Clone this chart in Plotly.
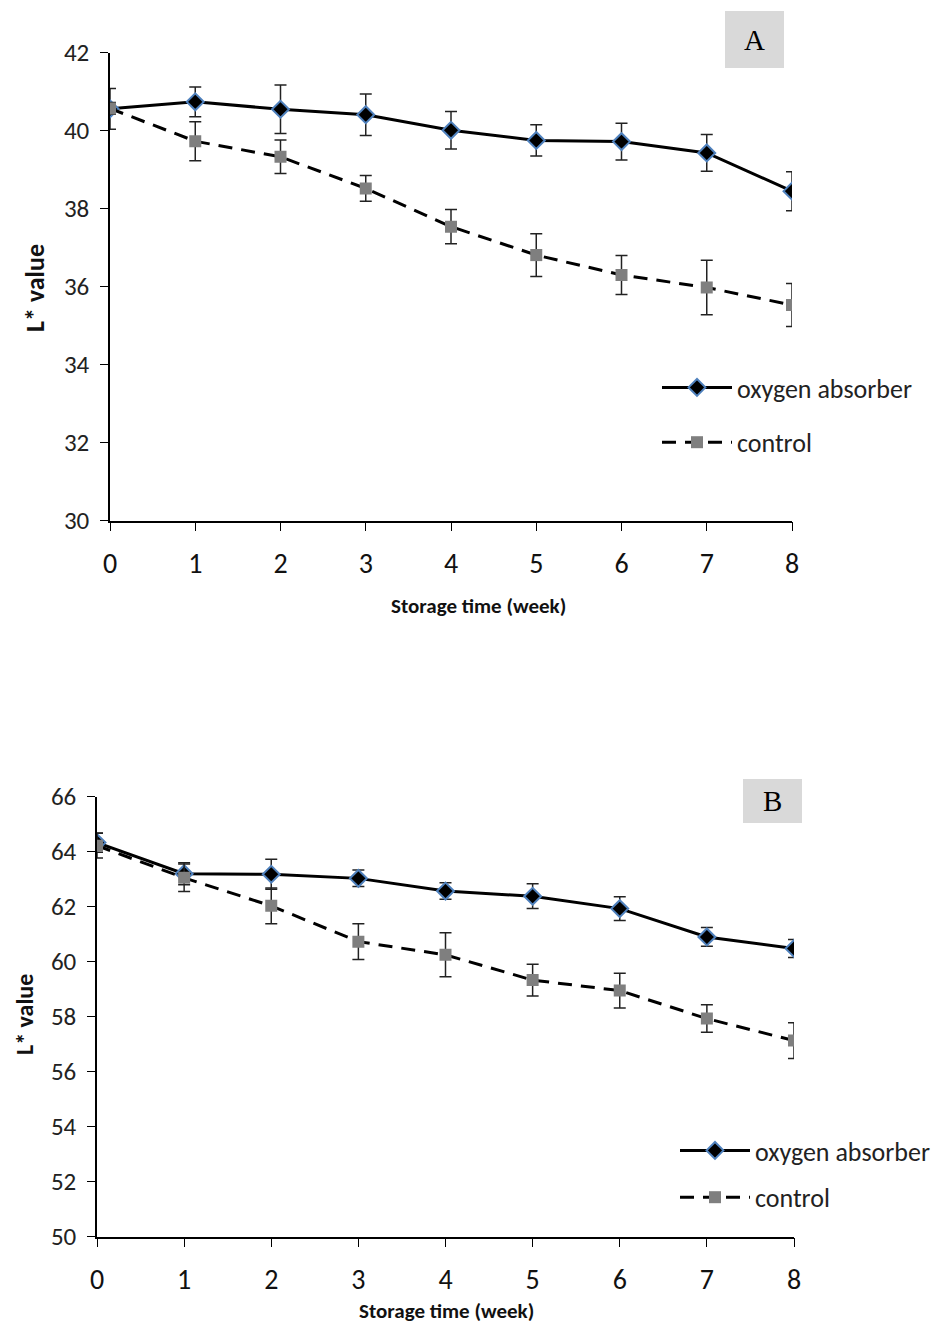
import plotly.graph_objects as go

weeks = [0, 1, 2, 3, 4, 5, 6, 7, 8]

# Panel A
a_oxy = [40.56, 40.74, 40.55, 40.41, 40.01, 39.75, 39.72, 39.43, 38.45]
a_oxy_err = [0.52, 0.38, 0.62, 0.53, 0.48, 0.40, 0.47, 0.47, 0.50]
a_ctl = [40.57, 39.73, 39.33, 38.52, 37.54, 36.81, 36.30, 35.98, 35.53]
a_ctl_err = [0.15, 0.50, 0.43, 0.33, 0.44, 0.55, 0.50, 0.70, 0.55]

# Panel B
b_oxy = [64.33, 63.20, 63.18, 63.03, 62.57, 62.38, 61.93, 60.90, 60.48]
b_oxy_err = [0.35, 0.40, 0.55, 0.30, 0.30, 0.45, 0.43, 0.34, 0.33]
b_ctl = [64.22, 63.05, 62.03, 60.73, 60.25, 59.33, 58.95, 57.93, 57.13]
b_ctl_err = [0.45, 0.50, 0.65, 0.65, 0.80, 0.58, 0.63, 0.50, 0.65]

series_names = ["oxygen absorber", "control"]
x_title = "Storage time (week)"
y_title = "L* value"
panel_labels = ["A", "B"]

OFF = 8  # page body margin
W, H = 941 - OFF, 1329 - OFF
FONT = "Carlito, Lato, Liberation Sans Narrow, sans-serif"

fig = go.Figure()


def add_panel(xa, ya, oxy, oxy_err, ctl, ctl_err, legend, tag):
    fig.add_trace(go.Scatter(
        x=weeks, y=oxy, name=series_names[0], xaxis=xa, yaxis=ya, legend=legend,
        legendgroup=tag + "o",
        mode="lines+markers",
        line=dict(color="black", width=3),
        marker=dict(symbol="diamond", size=13, color="black",
                    line=dict(color="#4f81bd", width=2)),
        error_y=dict(type="data", array=oxy_err, visible=True,
                     color="#222222", thickness=1.5, width=6),
    ))
    fig.add_trace(go.Scatter(
        x=weeks, y=ctl, name=series_names[1], xaxis=xa, yaxis=ya, legend=legend,
        legendgroup=tag + "c",
        mode="lines+markers",
        line=dict(color="black", width=3, dash="14px,9px"),
        marker=dict(symbol="square", size=12, color="#7f7f7f",
                    line=dict(color="#7f7f7f", width=0)),
        error_y=dict(type="data", array=ctl_err, visible=True,
                     color="#222222", thickness=1.5, width=6),
    ))


add_panel("x", "y", a_oxy, a_oxy_err, a_ctl, a_ctl_err, "legend", "a")
add_panel("x2", "y2", b_oxy, b_oxy_err, b_ctl, b_ctl_err, "legend2", "b")


def px_x(p):
    return (p - OFF) / W


def px_y(p):
    return 1 - (p - OFF) / H


common_x = dict(range=[0, 8], tickmode="array", tickvals=weeks,
                ticks="outside", ticklen=9, tickwidth=1.2, tickcolor="black",
                showline=True, linecolor="black", linewidth=1.5,
                showgrid=False, zeroline=False, automargin=False,
                ticklabelstandoff=8,
                tickfont=dict(family=FONT, size=28, color="#111"))
common_y = dict(ticks="outside", ticklen=8, tickwidth=1.2, tickcolor="black",
                showline=True, linecolor="black", linewidth=1.5,
                showgrid=False, zeroline=False, automargin=False,
                ticklabelstandoff=6,
                tickfont=dict(family=FONT, size=25, color="#222"))

legend_common = dict(xanchor="left", yanchor="top", bgcolor="rgba(0,0,0,0)",
                     itemwidth=70, traceorder="grouped",
                     font=dict(family=FONT, size=26, color="#222"))

fig.update_layout(
    width=W, height=H,
    margin=dict(l=0, r=0, t=0, b=0),
    paper_bgcolor="white", plot_bgcolor="white",
    xaxis=dict(domain=[px_x(110), px_x(792)], anchor="y", **common_x),
    yaxis=dict(domain=[px_y(520.7), px_y(52.7)], anchor="x", range=[30, 42],
               tickvals=[30, 32, 34, 36, 38, 40, 42], **common_y),
    xaxis2=dict(domain=[px_x(97), px_x(794)], anchor="y2", **common_x),
    yaxis2=dict(domain=[px_y(1236.7), px_y(796.7)], anchor="x2", range=[50, 66],
                tickvals=[50, 52, 54, 56, 58, 60, 62, 64, 66], **common_y),
    legend=dict(x=px_x(657), y=px_y(364), tracegroupgap=18, **legend_common),
    legend2=dict(x=px_x(675), y=px_y(1127), tracegroupgap=10, **legend_common),
    showlegend=True,
)

# axis titles
for (x, y, ang, size, txt) in [
    (478, 606, 0, 21, x_title),
    (35, 288, -90, 26, y_title),
    (446, 1311, 0, 21, x_title),
    (24, 1015, -90, 24, y_title),
]:
    fig.add_annotation(x=px_x(x), y=px_y(y), xref="paper", yref="paper",
                       xanchor="center", yanchor="middle",
                       text="<b>" + txt + "</b>", showarrow=False, textangle=ang,
                       font=dict(family=FONT, size=size, color="#111"))

# panel label boxes
for lab, (x0, y0, x1, y1) in zip(panel_labels, [(725, 11, 784, 68), (743, 779, 802, 823)]):
    fig.add_shape(type="rect", xref="paper", yref="paper",
                  x0=px_x(x0), x1=px_x(x1), y0=px_y(y1), y1=px_y(y0),
                  fillcolor="#d9d9d9", line=dict(width=0), layer="below")
    fig.add_annotation(x=px_x((x0 + x1) / 2), y=px_y((y0 + y1) / 2),
                       xref="paper", yref="paper", xanchor="center", yanchor="middle",
                       text=lab, showarrow=False,
                       font=dict(family="Liberation Serif, Times New Roman, serif",
                                 size=29, color="black"))

fig.write_html("out.html")
